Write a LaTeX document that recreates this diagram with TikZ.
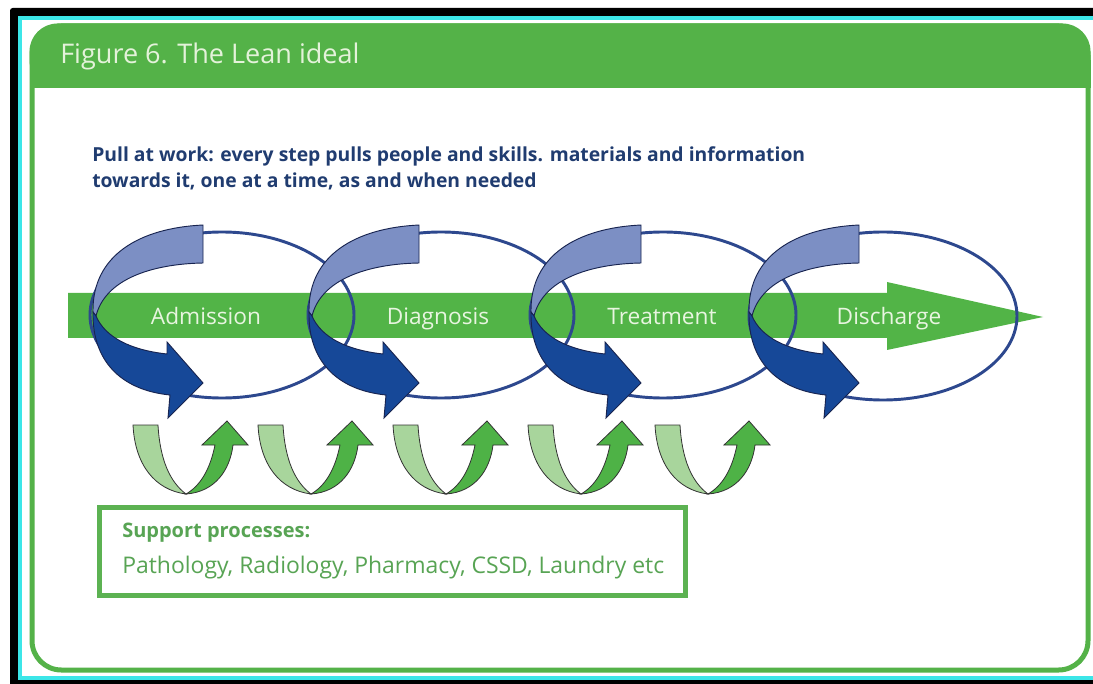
\documentclass[tikz,border=0pt]{standalone}
\usepackage{fontspec}
\setmainfont{Open Sans}
\definecolor{pgreen}{RGB}{84,178,72}
\definecolor{bargreen}{RGB}{82,180,71}
\definecolor{headtxt}{RGB}{228,242,218}
\definecolor{stagetxt}{RGB}{232,245,224}
\definecolor{titleblue}{RGB}{32,60,112}
\definecolor{ellblue}{RGB}{45,72,142}
\definecolor{lightblue}{RGB}{124,143,196}
\definecolor{darkblue}{RGB}{22,72,152}
\definecolor{navyline}{RGB}{24,36,80}
\definecolor{lightgreen}{RGB}{168,213,156}
\definecolor{midgreen}{RGB}{78,178,70}
\definecolor{supptxt}{RGB}{88,164,84}
\definecolor{boxgreen}{RGB}{92,178,82}
\definecolor{cyanline}{RGB}{60,230,232}
\begin{document}
\begin{tikzpicture}[x=0.75pt,y=-0.75pt,
  lightpart/.style={fill=lightblue,draw=navyline,line width=0.7pt},
  darkpart/.style={fill=darkblue,draw=navyline,line width=0.7pt},
  ltgreenpart/.style={fill=lightgreen,draw=black!80,line width=0.6pt},
  dkgreenpart/.style={fill=midgreen,draw=black!80,line width=0.6pt},
  stageell/.style={draw=ellblue,line width=2.2pt},
  stagelabel/.style={anchor=base,text=stagetxt,font=\fontsize{17}{20}\selectfont},
  pics/pullarrow/.style={code={
    \filldraw[lightpart] (203,225) .. controls (140,228) and (92,255) .. (93,312)
      -- (96,316) .. controls (105,280) and (150,264) .. (203,263) -- cycle;
    \filldraw[darkpart] (93,312) .. controls (92,360) and (120,390) .. (170,395)
      -- (168,418) -- (203,383) -- (167,342) -- (167,354)
      .. controls (130,350) and (105,337) .. (96,316) -- cycle;
  }},
  pics/supportarrow/.style={code={
    \filldraw[ltgreenpart] (133,425) .. controls (135,465) and (155,490) .. (186,494)
      .. controls (170,482) and (160,460) .. (158,425) -- cycle;
    \filldraw[dkgreenpart] (186,494) .. controls (215,492) and (230,470) .. (233,445)
      -- (248,445) -- (227,421) -- (202,445) -- (215,445)
      .. controls (210,470) and (200,486) .. (186,494) -- cycle;
  }}]
\useasboundingbox (0,0) rectangle (1093,684);
% frame
\fill[white] (0,0) rectangle (1093,684);
\fill[black,rounded corners=2pt] (10,8) rectangle (1110,700);
\fill[cyanline] (18,16) rectangle (1110,680);
\fill[white] (22,20) rectangle (1110,676);
% panel
\fill[pgreen,rounded corners=21pt] (29.5,23.5) rectangle (1090.5,88);
\fill[pgreen] (29.5,60) rectangle (1090.5,88);
\draw[pgreen,line width=3.75pt,rounded corners=22pt] (32,26) rectangle (1088,670);
\node[anchor=base west,inner sep=0pt,text=headtxt,font=\fontsize{20.3}{24}\selectfont] (head) at (60,64) {Figure 6. The Lean ideal};
% title
\node[anchor=base west,inner sep=0pt,text=titleblue,font=\bfseries\fontsize{14.5}{18}\selectfont] (pull1) at (92,162) {Pull at work: every step pulls people and skills. materials and information};
\node[anchor=base west,inner sep=0pt,text=titleblue,font=\bfseries\fontsize{14.5}{18}\selectfont] (pull2) at (92,188) {towards it, one at a time, as and when needed};
% main arrow
\fill[bargreen] (68,293) -- (887,293) -- (887,282) -- (1043,317) -- (887,350) -- (887,338) -- (68,338) -- cycle;
% ellipses
\draw[stageell] (222,315) ellipse [x radius=132, y radius=83];
\draw[stageell] (441,315) ellipse [x radius=133, y radius=83];
\draw[stageell] (663,315) ellipse [x radius=133, y radius=83];
\draw[stageell] (883,316) ellipse [x radius=134, y radius=84];
% labels
\node[stagelabel] (adm) at (206,325) {Admission};
\node[stagelabel] (dia) at (438,325) {Diagnosis};
\node[stagelabel] (tre) at (662,325) {Treatment};
\node[stagelabel] (dis) at (889,325) {Discharge};
% pull arrows
\pic at (0,0) {pullarrow};
\pic at (216,0) {pullarrow};
\pic at (438,0) {pullarrow};
\pic at (656,0) {pullarrow};
% support arrows
\pic at (0,0) {supportarrow};
\pic at (125,0) {supportarrow};
\pic at (260,0) {supportarrow};
\pic at (395,0) {supportarrow};
\pic at (522,0) {supportarrow};
% support box
\draw[boxgreen,line width=3.75pt] (99.5,507) rectangle (685.5,595);
\node[anchor=base west,inner sep=0pt,text=supptxt,font=\bfseries\fontsize{15}{18}\selectfont] (supp1) at (122,537) {Support processes:};
\node[anchor=base west,inner sep=0pt,text=supptxt,font=\fontsize{17.2}{20}\selectfont] (supp2) at (122,573) {Pathology, Radiology, Pharmacy, CSSD, Laundry etc};
\end{tikzpicture}
\end{document}
